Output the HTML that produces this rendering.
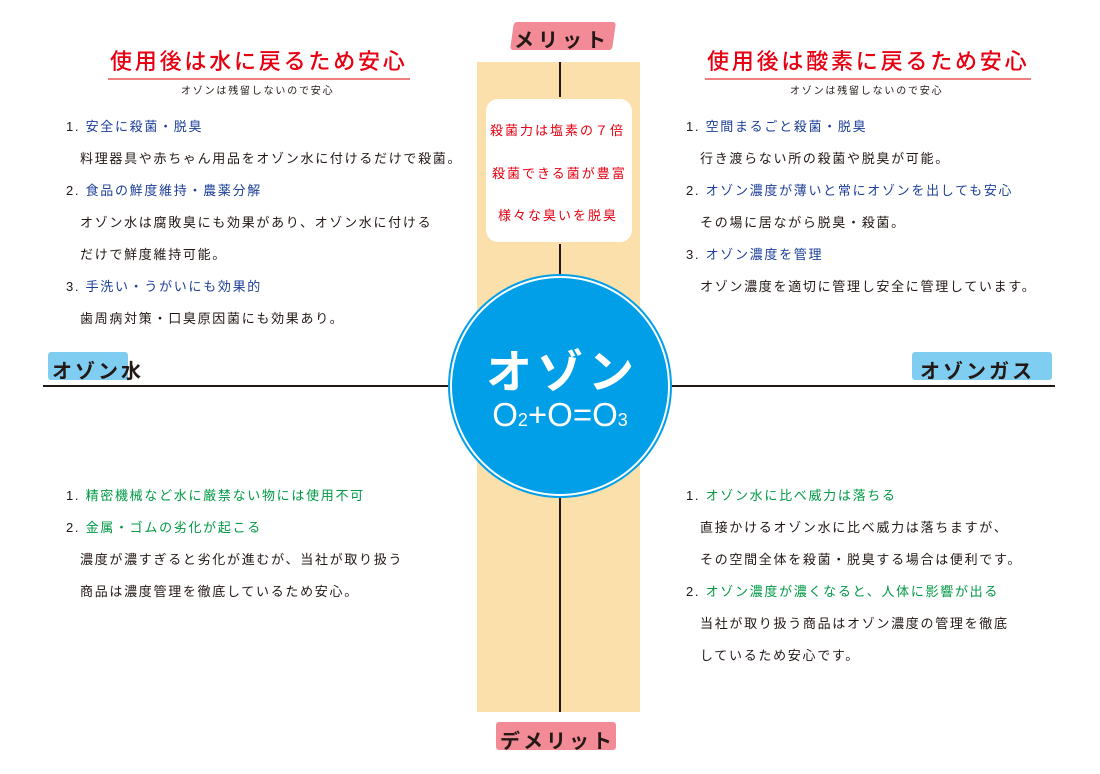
<!DOCTYPE html>
<html><head><meta charset="utf-8"><style>
*{margin:0;padding:0;box-sizing:border-box}
body{width:1100px;height:774px;background:#fff;position:relative;overflow:hidden;font-family:"Liberation Sans","Noto Sans CJK JP",sans-serif;color:#231815}
.a{position:absolute;white-space:nowrap}
.h{font-size:22px;color:#e60012;font-weight:500;letter-spacing:2.8px;border-bottom:2px solid #f08080;padding:0 2px 2px}
.s{font-size:10px;letter-spacing:1.8px}
.t{font-size:13px;letter-spacing:1.7px}
.b{color:#1d3f9a}
.g{color:#009944}
.brush{position:absolute;border-radius:3px}
</style></head><body>
<div class="a" style="left:477px;top:62px;width:163px;height:650px;background:#fbe0ac"></div>
<div class="a" style="left:559px;top:62px;width:2px;height:650px;background:#231815"></div>
<div class="a" style="left:43px;top:385px;width:1012px;height:2px;background:#231815"></div>
<div class="a" style="left:484px;top:97px;width:150px;height:147px;background:#fff;border:2px solid #fbe0ac;border-radius:14px"></div>
<div class="a" style="left:490px;top:120px;color:#e60012;font-size:13px;letter-spacing:2px">殺菌力は塩素の７倍</div>
<div class="a" style="left:492px;top:163px;color:#e60012;font-size:13px;letter-spacing:2px">殺菌できる菌が豊富</div>
<div class="a" style="left:498px;top:205px;color:#e60012;font-size:13px;letter-spacing:2px">様々な臭いを脱臭</div>
<div class="a" style="left:450px;top:276px;width:220px;height:220px;border-radius:50%;background:#009fe8;border:2px solid #fff;box-shadow:0 0 0 2px #009fe8"></div>
<div class="a" style="left:450px;top:336px;width:220px;text-align:center;color:#fff;font-size:46px;font-weight:bold;letter-spacing:5px;padding-left:5px">オゾン</div>
<div class="a" style="left:450px;top:396px;width:220px;text-align:center;color:#fff;font-size:33px">O<span style="font-size:18px">2</span>+O=O<span style="font-size:18px">3</span></div>
<div class="brush" style="left:512px;top:22px;width:102px;height:28px;background:#f28b95;transform:skewX(-8deg)"></div>
<div class="a" style="left:514px;top:24px;font-size:20px;font-weight:bold;letter-spacing:4px">メリット</div>
<div class="brush" style="left:496px;top:722px;width:120px;height:28px;background:#f28b95"></div>
<div class="a" style="left:500px;top:725px;font-size:20px;font-weight:bold;letter-spacing:3px">デメリット</div>
<div class="brush" style="left:48px;top:352px;width:80px;height:28px;background:#7fcdf0"></div>
<div class="a" style="left:52px;top:355px;font-size:20px;font-weight:bold;letter-spacing:3px">オゾン水</div>
<div class="brush" style="left:912px;top:352px;width:140px;height:28px;background:#7fcdf0"></div>
<div class="a" style="left:920px;top:355px;font-size:20px;font-weight:bold;letter-spacing:3px">オゾンガス</div>
<div class="a h" style="left:108px;top:44px">使用後は水に戻るため安心</div>
<div class="a s" style="left:181px;top:82px">オゾンは残留しないので安心</div>
<div class="a t" style="left:66px;top:116px">1. <span class="b">安全に殺菌・脱臭</span></div>
<div class="a t" style="left:80px;top:148px">料理器具や赤ちゃん用品をオゾン水に付けるだけで殺菌。</div>
<div class="a t" style="left:66px;top:180px">2. <span class="b">食品の鮮度維持・農薬分解</span></div>
<div class="a t" style="left:80px;top:212px">オゾン水は腐敗臭にも効果があり、オゾン水に付ける</div>
<div class="a t" style="left:80px;top:244px">だけで鮮度維持可能。</div>
<div class="a t" style="left:66px;top:276px">3. <span class="b">手洗い・うがいにも効果的</span></div>
<div class="a t" style="left:80px;top:308px">歯周病対策・口臭原因菌にも効果あり。</div>
<div class="a h" style="left:705px;top:44px">使用後は酸素に戻るため安心</div>
<div class="a s" style="left:790px;top:82px">オゾンは残留しないので安心</div>
<div class="a t" style="left:686px;top:116px">1. <span class="b">空間まるごと殺菌・脱臭</span></div>
<div class="a t" style="left:700px;top:148px">行き渡らない所の殺菌や脱臭が可能。</div>
<div class="a t" style="left:686px;top:180px">2. <span class="b">オゾン濃度が薄いと常にオゾンを出しても安心</span></div>
<div class="a t" style="left:700px;top:212px">その場に居ながら脱臭・殺菌。</div>
<div class="a t" style="left:686px;top:244px">3. <span class="b">オゾン濃度を管理</span></div>
<div class="a t" style="left:700px;top:276px">オゾン濃度を適切に管理し安全に管理しています。</div>
<div class="a t" style="left:66px;top:485px">1. <span class="g">精密機械など水に厳禁ない物には使用不可</span></div>
<div class="a t" style="left:66px;top:517px">2. <span class="g">金属・ゴムの劣化が起こる</span></div>
<div class="a t" style="left:80px;top:549px">濃度が濃すぎると劣化が進むが、当社が取り扱う</div>
<div class="a t" style="left:80px;top:581px">商品は濃度管理を徹底しているため安心。</div>
<div class="a t" style="left:686px;top:485px">1. <span class="g">オゾン水に比べ威力は落ちる</span></div>
<div class="a t" style="left:700px;top:517px">直接かけるオゾン水に比べ威力は落ちますが、</div>
<div class="a t" style="left:700px;top:549px">その空間全体を殺菌・脱臭する場合は便利です。</div>
<div class="a t" style="left:686px;top:581px">2. <span class="g">オゾン濃度が濃くなると、人体に影響が出る</span></div>
<div class="a t" style="left:700px;top:613px">当社が取り扱う商品はオゾン濃度の管理を徹底</div>
<div class="a t" style="left:700px;top:645px">しているため安心です。</div>
</body></html>
